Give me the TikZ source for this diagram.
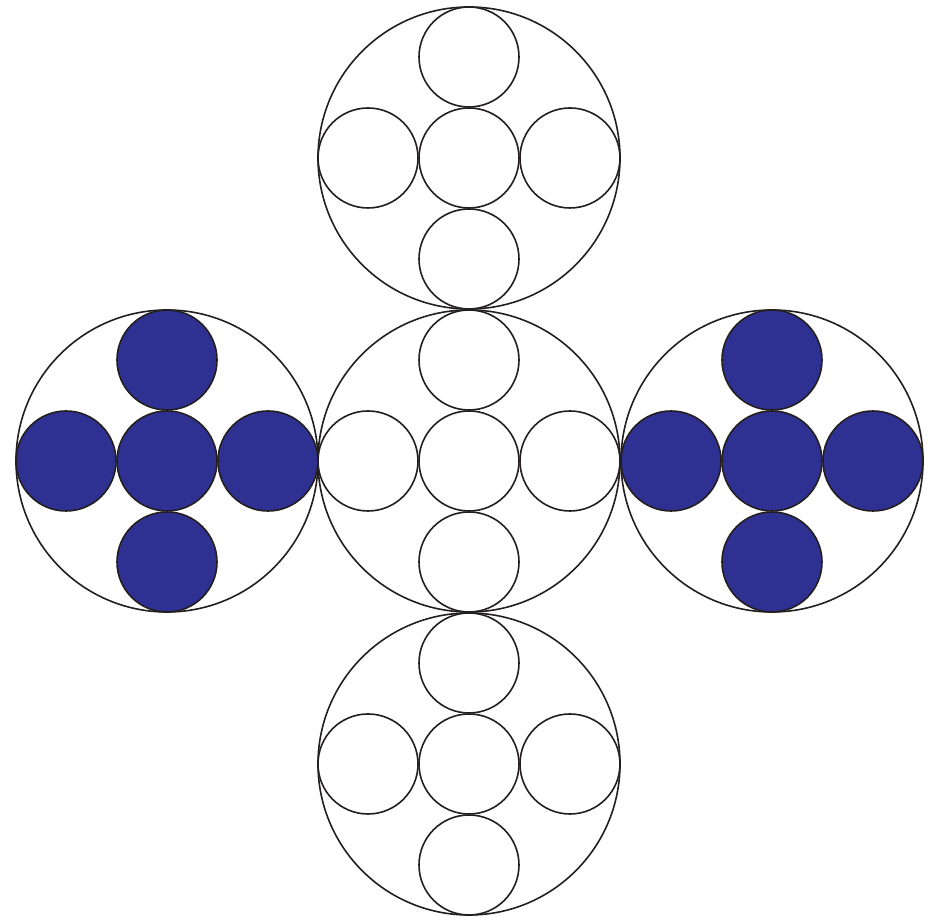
\documentclass[tikz,border=0pt]{standalone}
\usepackage{tikz}
\usetikzlibrary{positioning}
\definecolor{cellblue}{HTML}{2E3192}
\definecolor{rimgray}{HTML}{231F20}

\begin{document}
\begin{tikzpicture}[
    x=1pt, y=1pt,
    outer/.style={circle, draw=rimgray, line width=1.6pt, minimum size=302pt,
                  inner sep=0pt},
    inner/.style={circle, draw=rimgray, line width=1.6pt, minimum size=100pt,
                  inner sep=0pt},
    filled/.style={inner, fill=cellblue},
]
\useasboundingbox (0,0) rectangle (935,917);

% Big circles
\node[outer] (mid) at (469,456) {};
\node[outer] (top) at (469,759) {};
\node[outer] (bot) at (469,153) {};
\node[outer] (left) at (167,456) {};
\node[outer] (right) at (772,456) {};

% Small circles, a cross of five in each
\foreach \b/\sty in {top/inner, mid/inner, bot/inner, left/filled, right/filled} {
    \node[\sty] (\b-c) at (\b.center) {};
    \node[\sty] (\b-n) at ([yshift=101pt]\b.center) {};
    \node[\sty] (\b-s) at ([yshift=-101pt]\b.center) {};
    \node[\sty] (\b-w) at ([xshift=-101pt]\b.center) {};
    \node[\sty] (\b-e) at ([xshift=101pt]\b.center) {};
}

\end{tikzpicture}
\end{document}
